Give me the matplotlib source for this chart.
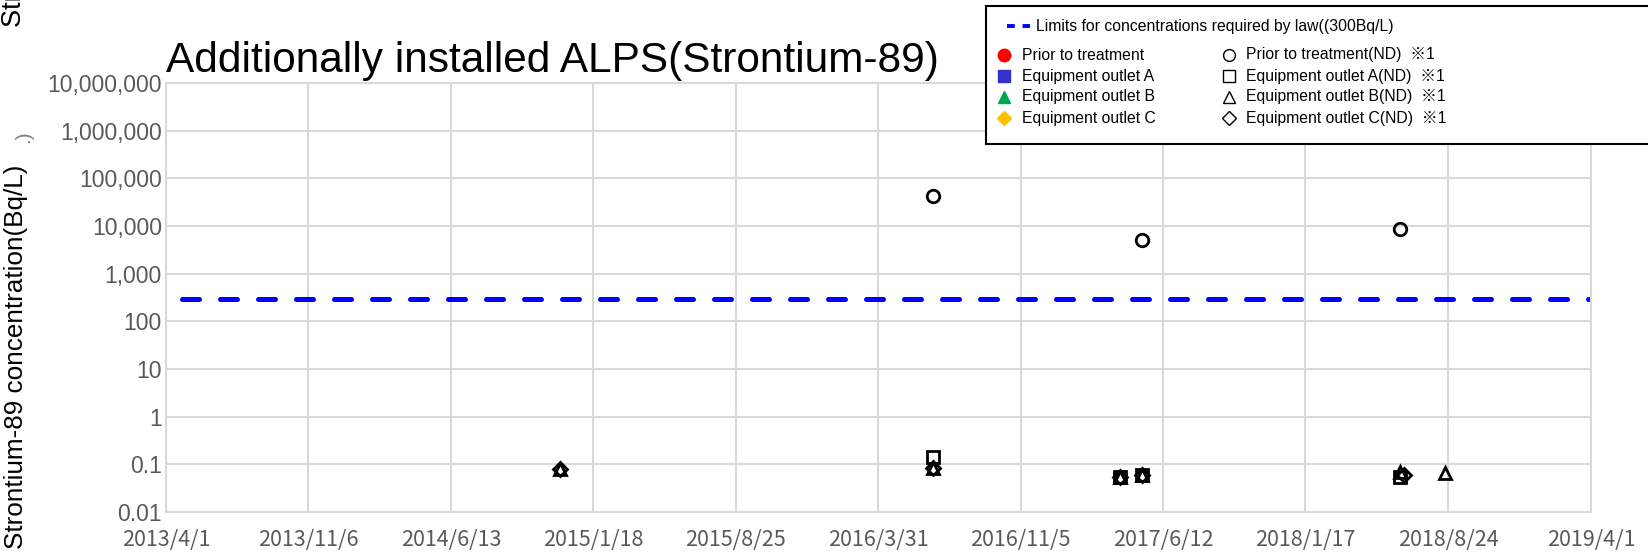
import numpy as np
import matplotlib
matplotlib.use("Agg")
import matplotlib.pyplot as plt
import matplotlib.dates as mdates
from matplotlib.ticker import FixedLocator, FuncFormatter
from datetime import datetime

# ---- data ----
prior_dates = []
prior_vals = []
a_dates = []
a_vals = []
b_dates = []
b_vals = []
c_dates = []
c_vals = []

prior_nd_dates = ["2016-06-23", "2017-05-10", "2018-06-11"]
prior_nd_vals = [42000, 5000, 8500]
a_nd_dates = ["2016-06-23", "2017-04-07", "2017-05-10", "2018-06-11"]
a_nd_vals = [0.14, 0.053, 0.061, 0.053]
b_nd_dates = ["2014-11-28", "2016-06-23", "2017-04-07", "2017-05-10", "2018-06-11", "2018-08-19"]
b_nd_vals = [0.08, 0.085, 0.053, 0.061, 0.068, 0.065]
c_nd_dates = ["2014-11-28", "2016-06-23", "2017-04-07", "2017-05-10", "2018-06-18"]
c_nd_vals = [0.08, 0.085, 0.053, 0.061, 0.059]

limit_dates = ["2013-04-25", "2019-04-01"]
limit_vals = [300, 300]

x_tick_labels = ["2013/4/1", "2013/11/6", "2014/6/13", "2015/1/18", "2015/8/25", "2016/3/31",
                 "2016/11/5", "2017/6/12", "2018/1/17", "2018/8/24", "2019/4/1"]
y_ticks = [0.01, 0.1, 1, 10, 100, 1000, 10000, 100000, 1000000, 10000000]


def to_dt(lst):
    return [datetime.strptime(s, "%Y-%m-%d") for s in lst]


def to_tick_dt(lst):
    return [datetime.strptime(s, "%Y/%m/%d") for s in lst]


plt.rcParams['font.family'] = ['Liberation Sans', 'DejaVu Sans']

fig = plt.figure(figsize=(16.48, 5.59), dpi=100)
ax = fig.add_axes([166 / 1648, 47 / 559, 1425 / 1648, 429 / 559])

grid_c = "#d9d9d9"
ax.set_yscale("log")
ax.set_ylim(0.01, 10000000)
ax.set_xlim(to_tick_dt([x_tick_labels[0]])[0], to_tick_dt([x_tick_labels[-1]])[0])

ax.yaxis.set_major_locator(FixedLocator(y_ticks))
ax.yaxis.set_minor_locator(FixedLocator([]))
ax.yaxis.set_major_formatter(FuncFormatter(lambda v, p: f"{v:,.0f}" if v >= 1 else f"{v:g}"))
ax.set_xticks(mdates.date2num(to_tick_dt(x_tick_labels)))
ax.set_xticklabels(x_tick_labels, family=['Noto Sans CJK JP', 'DejaVu Sans'])
ax.tick_params(axis="both", length=0, colors="#595959")
ax.tick_params(axis="y", labelsize=16.5, pad=3)
ax.tick_params(axis="x", labelsize=15.5, pad=12)
ax.grid(True, color=grid_c, linewidth=1.5)
ax.set_axisbelow(True)
for s in ax.spines.values():
    s.set_color(grid_c)
    s.set_linewidth(1.5)

# limit line
ax.plot(to_dt(limit_dates), limit_vals, color="#0000ff", linewidth=3.6,
        dashes=(3.4, 4.2), dash_capstyle="round", zorder=2)

ms = 8.5
mew = 2.0
ax.plot(to_dt(prior_dates), prior_vals, "o", color="red", ms=ms, linestyle="none")
ax.plot(to_dt(a_dates), a_vals, "s", color="#3333cc", ms=ms, linestyle="none")
ax.plot(to_dt(b_dates), b_vals, "^", color="#00a550", ms=ms, linestyle="none")
ax.plot(to_dt(c_dates), c_vals, "D", color="#ffc000", ms=ms, linestyle="none")

ax.plot(to_dt(prior_nd_dates), prior_nd_vals, "o", mfc="none", mec="black", mew=mew, ms=ms + 0.5, linestyle="none", zorder=5)
ax.plot(to_dt(a_nd_dates), a_nd_vals, "s", mfc="none", mec="black", mew=mew, ms=ms, linestyle="none", zorder=5)
ax.plot(to_dt(b_nd_dates), b_nd_vals, "^", mfc="none", mec="black", mew=mew, ms=ms, linestyle="none", zorder=5)
ax.plot(to_dt(c_nd_dates), c_nd_vals, "D", mfc="none", mec="black", mew=mew, ms=ms * 0.8, linestyle="none", zorder=5)

# title
fig.text(166 / 1648, 1 - 72 / 559, "Additionally installed ALPS(Strontium-89)", fontsize=30.5,
         color="black", ha="left", va="baseline")

# y label (plus clipped overlapping label pieces)
fig.text(16 / 1648, 1 - 357 / 559, "Strontium-89 concentration(Bq/L)", rotation=90,
         fontsize=18.8, ha="center", va="center")
fig.text(14 / 1648, 1 - 27 / 559, "Strontium-89 concentration(Bq/L)", rotation=90,
         fontsize=19.5, ha="center", va="bottom")
fig.text(24 / 1648, 1 - 137 / 559, ".)", rotation=90, fontsize=15, color="#808080",
         ha="center", va="center")

# legend box drawn by hand
lax = fig.add_axes([986 / 1648, 1 - 144 / 559, 700 / 1648, 138 / 559])
lax.set_xlim(0, 700)
lax.set_ylim(138, 0)
lax.set_xticks([])
lax.set_yticks([])
for s in lax.spines.values():
    s.set_color("black")
    s.set_linewidth(1.5)

fs = 11.3
lax.plot([21, 44], [20, 20], color="#0000ff", linewidth=2.8, dashes=(2.0, 2.0))
lax.text(50, 20, "Limits for concentrations required by law((300Bq/L)", fontsize=fs, va="center")

left_items = [("o", "red", "Prior to treatment"),
              ("s", "#3333cc", "Equipment outlet A"),
              ("^", "#00a550", "Equipment outlet B"),
              ("D", "#ffc000", "Equipment outlet C")]
right_items = [("o", "Prior to treatment(ND)  ※1"),
               ("s", "Equipment outlet A(ND)  ※1"),
               ("^", "Equipment outlet B(ND)  ※1"),
               ("D", "Equipment outlet C(ND)  ※1")]
rows = [49, 70, 91, 112]
for (m, c, lab), y in zip(left_items, rows):
    lax.plot([18], [y], m, color=c, ms=9 if m != "D" else 7)
    lax.text(36, y, lab, fontsize=fs, va="center")
for (m, lab), y in zip(right_items, rows):
    lax.plot([243], [y], m, mfc="none", mec="black", mew=1.0, ms=8.5 if m != "D" else 7)
    lax.text(260, y, lab, fontsize=fs, va="center",
             family=['Liberation Sans', 'Noto Sans CJK JP'])

fig.savefig("out.png", dpi=100)
